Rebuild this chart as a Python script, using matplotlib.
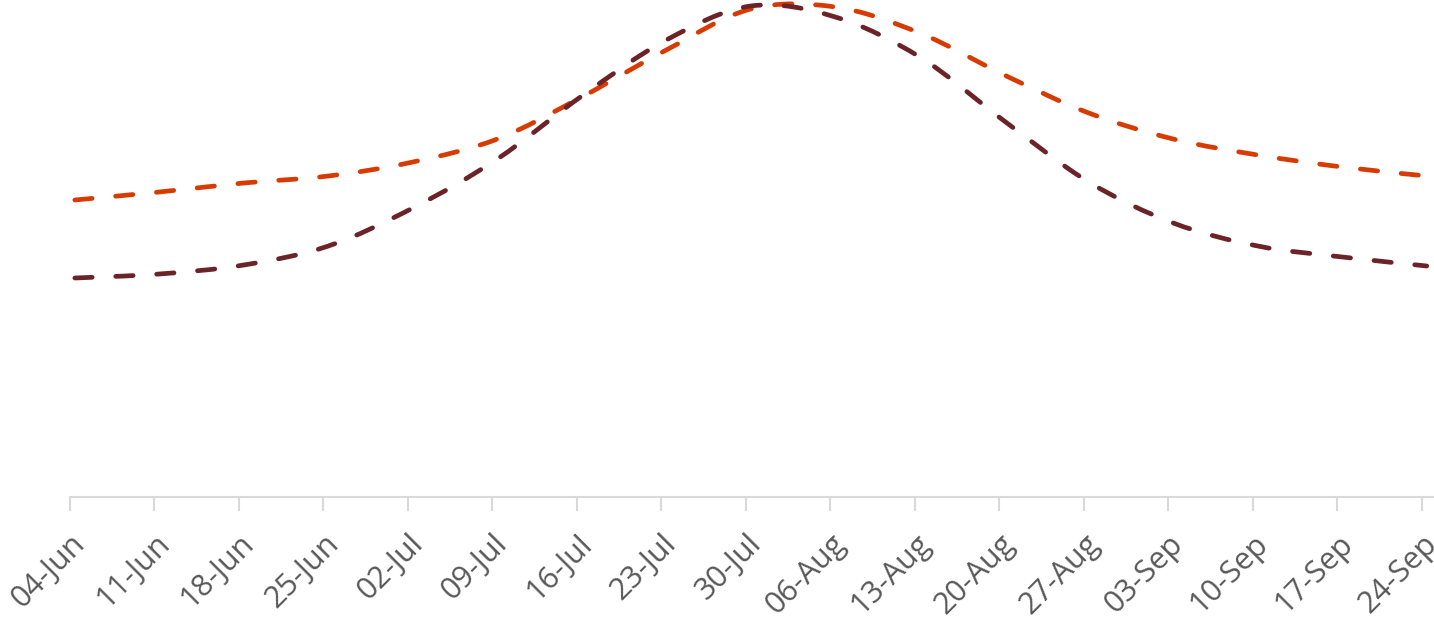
import numpy as np
import pandas as pd
import matplotlib
matplotlib.use("Agg")
import matplotlib.pyplot as plt
import matplotlib.dates as mdates
from matplotlib.path import Path
from matplotlib.patches import PathPatch

# data (weekly; y in chart units above the axis)
weeks = ["2023-06-04", "2023-06-11", "2023-06-18", "2023-06-25", "2023-07-02",
         "2023-07-09", "2023-07-16", "2023-07-23", "2023-07-30", "2023-08-06",
         "2023-08-13", "2023-08-20", "2023-08-27", "2023-09-03", "2023-09-10",
         "2023-09-17", "2023-09-24"]
tick_labels = ["04-Jun", "11-Jun", "18-Jun", "25-Jun", "02-Jul", "09-Jul", "16-Jul",
               "23-Jul", "30-Jul", "06-Aug", "13-Aug", "20-Aug", "27-Aug", "03-Sep",
               "10-Sep", "17-Sep", "24-Sep"]
orange_vals = [297, 305, 314, 321, 335, 358, 400, 447, 488, 490,
               464, 422, 384, 358, 342, 330, 321]
maroon_vals = [219, 223, 232, 251, 289, 338, 401, 457, 491, 480,
               440, 376, 315, 274, 251, 240, 231]

ORANGE = "#D83B01"
MAROON = "#6B2328"
GRID = "#D9D9D9"
TXT = "#595959"

plt.rcParams["font.family"] = ["Open Sans", "DejaVu Sans"]
plt.rcParams["lines.scale_dashes"] = False


def smooth_path(x, y):
    # Catmull-Rom style bezier through the points (like Excel "smoothed line")
    p = np.column_stack([x, y])
    verts = [p[0]]
    codes = [Path.MOVETO]
    n = len(p)
    for i in range(n - 1):
        p0 = p[i - 1] if i > 0 else p[i]
        p3 = p[i + 2] if i + 2 < n else p[i + 1]
        c1 = p[i] + (p[i + 1] - p0) / 6.0
        c2 = p[i + 1] - (p3 - p[i]) / 6.0
        verts += [c1, c2, p[i + 1]]
        codes += [Path.CURVE4] * 3
    return Path(verts, codes)


dates = pd.to_datetime(weeks)
xnum = mdates.date2num(dates)
xdata = xnum + 0.4

fig = plt.figure(figsize=(14.34, 6.2), dpi=100)
ax = fig.add_axes([70 / 1434, 1 - 497 / 620, 1364 / 1434, 497 / 620])

for vals, col in [(orange_vals, ORANGE), (maroon_vals, MAROON)]:
    patch = PathPatch(smooth_path(xdata, np.array(vals, float)), fill=False,
                      edgecolor=col, linewidth=3.4, linestyle=(0, (12.5, 17)),
                      capstyle="round", joinstyle="round")
    ax.add_patch(patch)

ax.set_xlim(xnum[0], xnum[-1] + 1)
ax.set_ylim(0, 497)

ax.set_xticks(xnum)
ax.set_xticklabels(tick_labels, rotation=45, ha="right", va="top",
                   rotation_mode="anchor", fontsize=22, color=TXT)
ax.tick_params(axis="x", length=10, width=1.5, color=GRID, pad=13)
ax.set_yticks([])

for side in ["top", "right", "left"]:
    ax.spines[side].set_visible(False)
ax.spines["bottom"].set_color(GRID)
ax.spines["bottom"].set_linewidth(1.5)
ax.patch.set_alpha(0)

fig.savefig("out.png", dpi=100)
